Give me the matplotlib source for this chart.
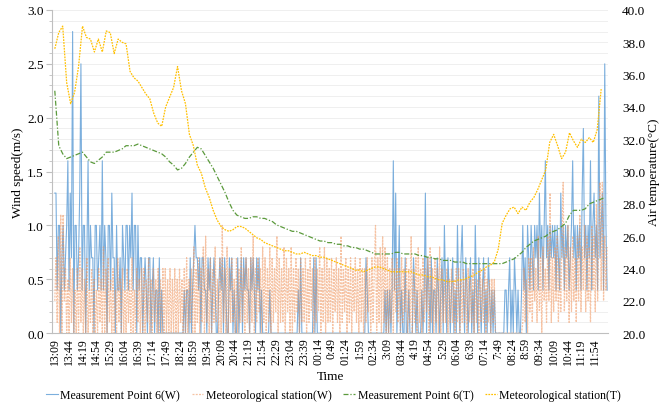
import numpy as np
import matplotlib.pyplot as plt
from matplotlib.ticker import MultipleLocator, FormatStrFormatter

plt.rcParams['font.family'] = ['Liberation Serif', 'DejaVu Serif']

# tick labels every 35 min, starting 13:09
time_labels = ["13:09", "13:44", "14:19", "14:54", "15:29", "16:04", "16:39", "17:14",
               "17:49", "18:24", "18:59", "19:34", "20:09", "20:44", "21:19", "21:54",
               "22:29", "23:04", "23:39", "00:14", "0:49", "01:24", "1:59", "02:34",
               "3:09", "03:44", "4:19", "04:54", "5:29", "06:04", "6:39", "07:14",
               "7:49", "08:24", "8:59", "09:34", "10:09", "10:44", "11:19", "11:54"]

# wind speed (m/s), one value every 3 min, one row per hour
mp6_wind = [
    1.3, 1.3, 0.4, 1.0, 1.0, 0.0, 0.7, 1.0, 0.4, 0.7, 1.0, 1.6, 0.4, 1.3, 0.7, 2.8, 0.0, 1.0, 1.0, 0.4,
    0.7, 1.3, 2.5, 0.4, 1.0, 1.0, 0.0, 0.7, 1.6, 0.4, 1.0, 0.7, 0.7, 0.0, 1.0, 1.0, 0.4, 0.7, 1.0, 0.4,
    1.6, 0.4, 1.0, 0.7, 0.0, 1.0, 1.0, 0.4, 1.3, 0.7, 0.7, 0.0, 1.0, 0.4, 0.4, 0.7, 0.0, 1.0, 0.7, 0.4,
    1.0, 1.0, 0.4, 1.0, 0.7, 1.3, 0.4, 1.0, 1.0, 0.0, 1.0, 0.4, 0.7, 0.7, 0.0, 0.4, 0.7, 0.4, 0.0, 0.7,
    0.7, 0.0, 0.4, 0.7, 0.0, 0.4, 0.4, 0.0, 0.7, 0.0, 0.4, 0.0, 0.0, 0.0, 0.0, 0.0, 0.0, 0.0, 0.0, 0.0,
    0.0, 0.0, 0.0, 0.0, 0.0, 0.0, 0.0, 0.0, 0.0, 0.4, 0.0, 0.4, 0.4, 0.0, 0.7, 0.0, 0.4, 0.7, 1.0, 0.7,
    0.7, 0.4, 0.7, 0.0, 0.7, 0.7, 0.4, 0.4, 0.0, 0.7, 0.4, 0.7, 0.0, 0.4, 0.7, 0.4, 0.0, 0.0, 0.4, 0.7,
    0.4, 0.7, 0.0, 0.7, 0.4, 0.0, 0.0, 0.7, 0.4, 0.7, 0.0, 0.4, 0.0, 0.0, 0.7, 0.0, 0.4, 0.7, 0.0, 0.7,
    0.4, 0.7, 0.4, 0.4, 0.0, 0.7, 0.4, 0.7, 0.4, 0.0, 0.7, 0.4, 0.7, 0.0, 0.4, 0.0, 0.0, 0.0, 0.0, 0.0,
    0.0, 0.4, 0.0, 0.0, 0.0, 0.0, 0.0, 0.0, 0.0, 0.0, 0.0, 0.0, 0.0, 0.0, 0.0, 0.0, 0.0, 0.0, 0.0, 0.0,
    0.0, 0.0, 0.0, 0.0, 0.0, 0.4, 0.0, 0.7, 0.0, 0.0, 0.0, 0.0, 0.0, 0.0, 0.0, 0.0, 0.0, 0.0, 0.7, 0.0,
    0.7, 0.0, 0.0, 0.0, 0.0, 0.0, 0.0, 0.0, 0.0, 0.0, 0.0, 0.0, 0.0, 0.0, 0.0, 0.0, 0.0, 0.0, 0.0, 0.0,
    0.0, 0.0, 0.0, 0.0, 0.0, 0.0, 0.0, 0.0, 0.0, 0.0, 0.0, 0.0, 0.0, 0.0, 0.0, 0.0, 0.0, 0.0, 0.0, 0.0,
    0.0, 0.0, 0.7, 0.4, 0.0, 0.0, 0.0, 0.0, 0.0, 0.0, 0.0, 0.0, 0.0, 0.0, 0.0, 0.0, 0.0, 0.0, 0.4, 0.0,
    0.4, 0.0, 0.4, 0.0, 0.4, 1.6, 0.4, 1.3, 0.0, 0.4, 1.0, 0.0, 0.4, 0.0, 0.0, 0.7, 0.0, 0.0, 0.4, 0.0,
    0.0, 0.0, 0.7, 0.4, 0.0, 0.4, 0.0, 0.0, 0.0, 0.4, 0.0, 0.4, 1.3, 0.0, 0.7, 0.4, 0.0, 0.7, 0.0, 0.4,
    0.4, 0.0, 0.7, 0.4, 0.0, 0.4, 0.7, 0.0, 1.0, 0.4, 0.0, 0.7, 0.4, 0.0, 0.4, 0.7, 0.0, 0.4, 0.0, 1.0,
    0.4, 0.0, 0.7, 1.0, 0.4, 0.0, 0.7, 0.4, 0.0, 0.4, 0.7, 0.0, 0.4, 0.0, 1.0, 0.4, 0.0, 0.7, 0.4, 0.0,
    0.4, 0.7, 0.0, 0.4, 0.0, 0.7, 0.4, 0.0, 0.4, 0.0, 0.4, 0.0, 0.0, 0.0, 0.0, 0.0, 0.0, 0.0, 0.0, 0.4,
    0.4, 0.0, 0.4, 0.7, 0.0, 0.4, 0.0, 0.7, 0.4, 0.0, 0.4, 0.0, 0.0, 0.4, 1.0, 0.4, 0.7, 0.0, 1.0, 0.7,
    0.4, 1.0, 0.7, 0.4, 1.0, 0.7, 1.0, 0.4, 1.3, 0.7, 1.0, 0.4, 1.0, 1.6, 0.7, 1.0, 0.4, 1.0, 0.7, 1.0,
    0.7, 1.0, 0.4, 1.0, 0.7, 0.4, 1.3, 0.7, 1.0, 0.4, 1.0, 0.7, 1.0, 0.4, 0.7, 1.0, 1.6, 0.7, 1.0, 0.4,
    1.0, 0.7, 1.0, 0.4, 1.3, 1.9, 0.7, 1.0, 0.4, 1.0, 0.7, 1.6, 0.4, 1.0, 1.3, 0.7, 1.0, 0.4, 2.2, 0.7,
    1.0, 1.3, 0.4, 2.5, 1.0, 0.4,
]

met_wind = [
    0.3, 0.7, 0.1, 0.9, 0.0, 1.1, 0.0, 1.1, 0.3, 0.6, 0.0, 0.5, 0.0, 0.7, 0.1, 0.6, 0.0, 0.4, 0.0, 0.6,
    0.0, 0.8, 0.1, 0.6, 0.0, 0.5, 0.0, 0.7, 0.0, 0.4, 0.1, 0.6, 0.0, 0.5, 0.0, 0.4, 0.0, 0.6, 0.1, 0.5,
    0.0, 0.8, 0.0, 0.6, 0.0, 0.7, 0.1, 0.5, 0.0, 0.6, 0.0, 0.4, 0.0, 0.7, 0.1, 0.5, 0.0, 0.6, 0.0, 0.4,
    0.0, 0.6, 0.1, 0.5, 0.0, 0.7, 0.0, 0.4, 0.0, 0.6, 0.1, 0.5, 0.0, 0.6, 0.0, 0.6, 0.0, 0.5, 0.1, 0.7,
    0.0, 0.5, 0.0, 0.6, 0.1, 0.5, 0.0, 0.6, 0.0, 0.5, 0.0, 0.6, 0.0, 0.6, 0.0, 0.5, 0.0, 0.6, 0.0, 0.5,
    0.0, 0.6, 0.0, 0.5, 0.0, 0.6, 0.1, 0.5, 0.0, 0.6, 0.0, 0.7, 0.0, 0.5, 0.1, 0.6, 0.0, 0.8, 0.0, 0.6,
    0.1, 0.7, 0.0, 0.6, 0.1, 0.8, 0.0, 0.9, 0.1, 0.6, 0.0, 0.7, 0.0, 0.6, 0.1, 0.8, 0.1, 0.5, 0.0, 0.7,
    0.0, 1.0, 0.1, 0.6, 0.0, 0.8, 0.0, 0.6, 0.1, 0.7, 0.1, 0.5, 0.0, 0.7, 0.0, 0.6, 0.1, 0.8, 0.1, 0.6,
    0.0, 0.7, 0.1, 0.6, 0.0, 0.7, 0.1, 0.9, 0.0, 0.6, 0.1, 0.7, 0.2, 0.6, 0.0, 0.8, 0.1, 0.7, 0.0, 0.6,
    0.1, 0.8, 0.0, 0.7, 0.1, 0.6, 0.2, 0.9, 0.0, 0.7, 0.1, 0.6, 0.1, 0.8, 0.0, 0.7, 0.2, 0.6, 0.0, 0.8,
    0.0, 0.6, 0.1, 0.7, 0.2, 0.6, 0.0, 0.7, 0.1, 0.6, 0.1, 0.7, 0.0, 0.6, 0.1, 0.7, 0.2, 0.6, 0.0, 0.7,
    0.1, 0.6, 0.2, 0.8, 0.0, 0.6, 0.1, 0.8, 0.0, 0.7, 0.1, 0.6, 0.1, 0.7, 0.0, 0.6, 0.2, 0.7, 0.1, 0.6,
    0.0, 0.9, 0.1, 0.6, 0.2, 0.7, 0.0, 0.6, 0.1, 0.7, 0.0, 0.6, 0.2, 0.7, 0.1, 0.6, 0.0, 0.7, 0.1, 0.6,
    0.0, 0.6, 0.1, 0.7, 0.2, 0.6, 0.0, 0.7, 0.1, 0.6, 1.0, 0.0, 0.7, 0.1, 0.8, 0.0, 0.9, 0.1, 0.8, 0.0,
    0.7, 0.0, 0.6, 0.1, 0.7, 0.0, 0.6, 0.2, 0.7, 0.1, 0.6, 0.0, 0.7, 0.1, 0.6, 0.2, 0.7, 0.0, 0.6, 0.1,
    0.9, 0.0, 0.6, 0.1, 0.7, 0.0, 0.8, 0.1, 0.6, 0.0, 0.7, 0.1, 0.6, 0.2, 0.7, 0.0, 0.8, 0.1, 0.6, 0.0,
    0.7, 0.1, 0.6, 0.0, 0.8, 0.0, 0.6, 0.1, 0.5, 0.1, 0.6, 0.0, 0.5, 0.1, 0.6, 0.1, 0.5, 0.0, 0.6, 0.1,
    0.6, 0.0, 0.5, 0.1, 0.6, 0.1, 0.5, 0.0, 0.6, 0.1, 0.5, 0.1, 0.6, 0.0, 0.5, 0.1, 0.5, 0.0, 0.6, 0.1,
    0.5, 0.1, 0.6, 0.0, 0.5, 0.1, 0.5, 0.0, 0.5, 0.1, 0.5, 0.0, 0.0, 0.0, 0.0, 0.0, 0.0, 0.0, 0.0, 0.0,
    0.0, 0.0, 0.0, 0.0, 0.0, 0.0, 0.0, 0.0, 0.0, 0.0, 0.0, 0.0, 0.0, 0.0, 0.1, 0.6, 0.1, 0.5, 0.0, 0.7,
    0.2, 0.7, 0.1, 0.8, 0.3, 0.6, 0.1, 0.9, 0.2, 0.7, 0.0, 0.8, 0.3, 0.6, 0.1, 0.9, 0.3, 1.3, 0.1, 0.7,
    0.2, 0.8, 0.3, 0.9, 0.1, 0.7, 0.2, 0.9, 1.4, 0.2, 0.8, 0.3, 1.0, 0.1, 0.8, 0.2, 0.9, 0.3, 0.7, 0.1,
    0.9, 0.3, 1.1, 0.2, 0.8, 0.4, 1.0, 0.2, 0.9, 0.3, 0.8, 0.1, 1.0, 0.4, 0.9, 0.2, 1.2, 0.3, 0.9, 1.4,
    0.4, 1.4, 0.3, 0.9, 0.4, 0.8,
]

# air temperature (°C), one value every 10 min
mp6_temp = [
    35.0, 31.6, 31.1, 30.8, 30.9, 31.0, 31.1, 31.2, 30.9, 30.6,
    30.5, 30.7, 30.9, 31.2, 31.2, 31.2, 31.3, 31.4, 31.6, 31.6,
    31.6, 31.7, 31.6, 31.5, 31.4, 31.3, 31.2, 31.1, 30.9, 30.6,
    30.4, 30.1, 30.2, 30.5, 30.9, 31.2, 31.5, 31.4, 31.0, 30.6,
    30.2, 29.7, 29.2, 28.7, 28.1, 27.6, 27.3, 27.2, 27.1, 27.1,
    27.2, 27.2, 27.1, 27.1, 27.0, 26.9, 26.7, 26.6, 26.5, 26.4,
    26.3, 26.3, 26.2, 26.1, 26.0, 25.9, 25.8, 25.7, 25.7, 25.6,
    25.6, 25.5, 25.5, 25.4, 25.4, 25.3, 25.3, 25.2, 25.2, 25.1,
    25.0, 24.9, 24.9, 24.9, 24.9, 24.9, 25.0, 25.0, 24.9, 24.9,
    24.9, 24.9, 24.8, 24.8, 24.7, 24.7, 24.6, 24.6, 24.5, 24.5,
    24.5, 24.4, 24.4, 24.4, 24.3, 24.3, 24.3, 24.3, 24.3, 24.3,
    24.3, 24.3, 24.3, 24.3, 24.4, 24.5, 24.6, 24.8, 25.0, 25.3,
    25.5, 25.7, 25.8, 25.9, 26.0, 26.2, 26.3, 26.4, 26.6, 26.8,
    27.3, 27.6, 27.6, 27.6, 27.7, 28.0, 28.1, 28.2, 28.3, 28.4,
]

met_temp = [
    37.6, 38.6, 39.0, 35.5, 34.2, 34.9, 36.5, 39.0, 38.3, 38.2,
    37.4, 38.2, 37.4, 38.7, 38.6, 37.3, 38.2, 38.0, 37.9, 36.2,
    35.8, 35.6, 35.2, 34.8, 34.5, 33.6, 33.0, 32.8, 34.0, 34.6,
    35.2, 36.5, 35.0, 34.2, 32.3, 31.6, 30.4, 29.9, 29.0, 28.4,
    27.6, 27.0, 26.6, 26.4, 26.3, 26.4, 26.6, 26.6, 26.5, 26.3,
    26.1, 25.9, 25.8, 25.6, 25.5, 25.4, 25.3, 25.2, 25.1, 25.1,
    25.0, 24.9, 24.9, 25.0, 24.9, 24.8, 24.8, 24.7, 24.7, 24.6,
    24.5, 24.4, 24.3, 24.2, 24.1, 24.0, 23.9, 23.9, 23.8, 23.9,
    24.0, 24.1, 24.1, 24.0, 23.9, 23.8, 23.8, 23.8, 23.8, 23.8,
    23.8, 23.7, 23.6, 23.6, 23.5, 23.5, 23.4, 23.3, 23.3, 23.2,
    23.2, 23.2, 23.3, 23.3, 23.4, 23.5, 23.6, 23.8, 23.9, 24.1,
    24.2, 24.4, 25.2, 26.8, 27.3, 27.7, 27.8, 27.4, 27.8, 27.6,
    28.1, 28.4, 28.9, 29.5, 30.1, 31.8, 32.3, 31.6, 30.8, 31.2,
    32.4, 31.9, 31.5, 32.0, 31.8, 32.1, 31.8, 32.6, 35.1,
]

wind_t = np.arange(len(mp6_wind)) * 3      # minutes after 13:09
mp6_t = np.arange(len(mp6_temp)) * 10
met_t = np.arange(len(met_temp)) * 10
tick_pos = np.arange(len(time_labels)) * 35

fig = plt.figure(figsize=(6.67, 4.06), dpi=100)
ax = fig.add_axes([0.078, 0.177, 0.834, 0.796])
ax2 = ax.twinx()

l1, = ax.plot(wind_t, mp6_wind, color='#5b9bd5', lw=0.8, alpha=0.8,
              label='Measurement Point 6(W)')
l2, = ax.plot(wind_t, met_wind, color='#f0935a', lw=0.9, alpha=0.55,
              dashes=(1.6, 1.0), label='Meteorological station(W)')
l3, = ax2.plot(mp6_t, mp6_temp, color='#5b9a3c', lw=0.9,
               dashes=(4, 1.5, 1, 1.5), label='Measurement Point 6(T)')
l4, = ax2.plot(met_t, met_temp, color='#ffc000', lw=0.9,
               dashes=(1.4, 0.9), label='Meteorological station(T)')

ax.set_xlim(-7, 1398)
ax.set_ylim(0, 3)
ax2.set_ylim(20, 40)

ax.yaxis.set_major_locator(MultipleLocator(0.5))
ax.yaxis.set_minor_locator(MultipleLocator(0.1))
ax.yaxis.set_major_formatter(FormatStrFormatter('%.1f'))
ax.grid(which='both', axis='y', color='#ececec', lw=0.6)
ax.set_axisbelow(True)

ax.set_xticks(tick_pos)
ax.set_xticklabels(time_labels, rotation=90, fontsize=8.5)
ax.tick_params(axis='x', length=0, pad=3)
ax.tick_params(axis='y', which='major', length=4, color='#bfbfbf', labelsize=9.5, pad=2)
ax.tick_params(axis='y', which='minor', length=2, color='#bfbfbf')

ax2.yaxis.set_major_locator(MultipleLocator(2))
ax2.yaxis.set_major_formatter(FormatStrFormatter('%.1f'))
ax2.tick_params(axis='y', length=0, labelsize=9.5, pad=10)

for s in ['top', 'right']:
    ax.spines[s].set_visible(False)
for s in ['left', 'bottom']:
    ax.spines[s].set_color('#bfbfbf')
for s in ax2.spines.values():
    s.set_visible(False)

ax.set_ylabel('Wind speed(m/s)', fontsize=9.5)
ax.yaxis.set_label_coords(-0.05, 0.5)
ax2.set_ylabel('Air temperature(°C)', fontsize=9.5, rotation=90)
ax2.yaxis.set_label_coords(1.071, 0.5)
ax.set_xlabel('Time', fontsize=9.5, labelpad=4)

fig.legend(handles=[l1, l2, l3, l4], loc='center', bbox_to_anchor=(0.5, 0.025),
           ncol=4, frameon=False, fontsize=8.5, handlelength=1.0,
           handletextpad=0.2, columnspacing=1.0)

fig.savefig('out.png', dpi=100)
